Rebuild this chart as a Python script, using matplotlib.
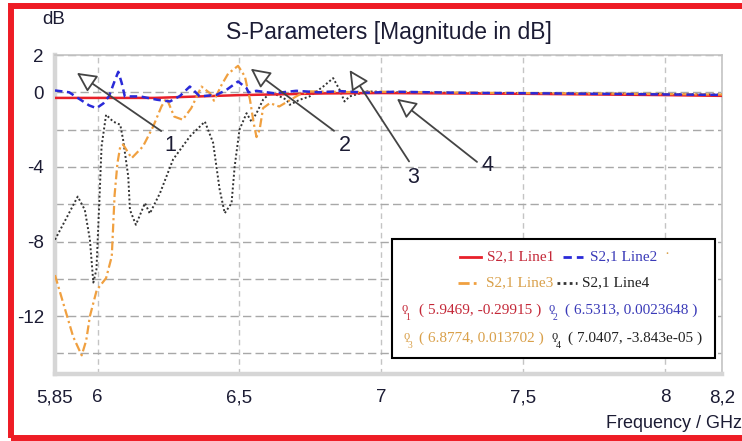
import matplotlib
matplotlib.use("Agg")
import matplotlib.pyplot as plt
import matplotlib.transforms as mtransforms
from matplotlib.patches import Rectangle
from matplotlib.lines import Line2D

plt.rcParams['axes.unicode_minus'] = False

# ---- data ----
line1_x = [5.85, 6.2, 6.5, 6.8, 7.0, 7.5, 8.0, 8.2]
line1_y = [-0.30, -0.30, -0.15, -0.06, -0.04, -0.08, -0.15, -0.19]

line2_x = [5.85, 5.90, 5.94, 5.97, 5.996, 6.02, 6.04, 6.06, 6.073, 6.085, 6.096,
           6.15, 6.21, 6.255, 6.29, 6.325, 6.36, 6.42, 6.454, 6.495, 6.525, 6.5313,
           6.56, 6.62, 6.70, 6.78, 6.86, 6.95, 7.05, 7.3, 7.6, 7.9, 8.2]
line2_y = [0.10, 0.00, -0.40, -0.70, -0.85, -0.60, -0.22, 0.60, 1.10, 0.50, -0.22,
           -0.22, -0.40, -0.49, -0.20, 0.31, -0.22, -0.13, 0.13, 0.58, 0.22, 0.00,
           0.08, -0.05, 0.08, 0.00, 0.06, -0.02, 0.03, -0.03, -0.06, -0.10, -0.14]

line3_x = [5.85, 5.879, 5.914, 5.944, 5.96, 5.973, 5.997, 6.03, 6.05, 6.06, 6.07,
           6.08, 6.09, 6.12, 6.16, 6.196, 6.225, 6.243, 6.27, 6.30, 6.33, 6.366,
           6.396, 6.41, 6.437, 6.46, 6.495, 6.519, 6.537, 6.55, 6.56, 6.571, 6.583,
           6.607, 6.64, 6.68, 6.71, 6.75, 6.8774, 7.0, 7.3, 7.6, 7.9, 8.2]
line3_y = [-9.8, -11.3, -13.1, -14.1, -13.3, -12.0, -10.6, -9.96, -8.8, -5.5, -3.8,
           -2.9, -2.8, -3.53, -2.9, -1.83, -0.76, -0.31, -1.3, -1.47, -0.85, 0.31,
           -0.05, -0.45, 0.40, 1.0, 1.42, 0.85, -0.4, -1.65, -2.4, -2.0, -0.85,
           -0.58, -0.76, -0.4, -0.13, 0.05, 0.014, 0.03, -0.02, -0.05, -0.08, -0.12]

line4_x = [5.85, 5.89, 5.93, 5.955, 5.973, 5.985, 5.996, 6.008, 6.014, 6.03, 6.055,
           6.08, 6.09, 6.108, 6.114, 6.135, 6.167, 6.184, 6.22, 6.266, 6.325, 6.378,
           6.407, 6.43, 6.448, 6.472, 6.483, 6.50, 6.525, 6.542, 6.56, 6.583, 6.607,
           6.63, 6.666, 6.677, 6.712, 6.747, 6.795, 6.83, 6.853, 6.87, 6.888, 6.95,
           7.0407, 7.3, 7.6, 7.9, 8.2]
line4_y = [-7.9, -6.75, -5.59, -6.3, -7.9, -10.2, -9.5, -5.2, -2.9, -1.2, -1.57,
           -1.74, -2.55, -4.5, -6.3, -7.1, -5.94, -6.5, -5.4, -3.6, -2.37, -1.57,
           -2.7, -5.2, -6.48, -5.94, -3.98, -2.0, -1.12, -1.57, -1.12, -0.4, -0.05,
           -0.13, -0.4, -0.67, -0.4, -0.22, 0.31, 0.76, 0.13, -0.49, -0.22, 0.05,
           0.0, -0.03, -0.05, -0.08, -0.12]

marker_x = [5.9469, 6.5313, 6.8774, 7.0407]
marker_y = [-0.29915, 0.0023648, 0.013702, -3.843e-05]
marker_lbl = ['1', '2', '3', '4']

xticks = [5.85, 6, 6.5, 7, 7.5, 8, 8.2]
xtick_labels = ['5,85', '6', '6,5', '7', '7,5', '8', '8,2']
yticks = [2, 0, -4, -8, -12]
ygrid_minor = [-2, -6, -10, -14]

series_names = ['S2,1 Line1', 'S2,1 Line2', 'S2,1 Line3', 'S2,1 Line4']
line_cols = ['#e8202a', '#2a2ad8', '#f0a040', '#333333']
text_cols = ['#c42838', '#3a3ab8', '#d9a04a', '#222222']

# ---- figure ----
W, H = 742, 441
fig = plt.figure(figsize=(W / 100, H / 100), dpi=100)
fig.patch.set_facecolor('white')

def fx(px):
    return px / W

def fy(py):
    return 1 - py / H

sans = ['Liberation Sans Narrow', 'Liberation Sans', 'DejaVu Sans']
serif = ['Liberation Serif', 'DejaVu Serif']
dark = '#1c1c34'

ax = fig.add_axes([fx(55), fy(374), fx(722) - fx(55), fy(55) - fy(374)])

ax.plot(line4_x, line4_y, color=line_cols[3], lw=1.4, ls=(0, (1, 1.2)), zorder=3)
ax.plot(line1_x, line1_y, color=line_cols[0], lw=1.8, ls='-', zorder=4)
ax.plot(line3_x, line3_y, color=line_cols[2], lw=1.6, ls=(0, (4, 1.5, 1, 1.5)), zorder=5)
ax.plot(line2_x, line2_y, color=line_cols[1], lw=1.8, ls=(0, (3, 1.8)), zorder=6)

ax.set_xlim(5.85, 8.2)
ax.set_ylim(-15.1, 2.0)
ax.set_xticks(xticks)
ax.set_xticklabels(xtick_labels)
ax.set_yticks(yticks)
ax.set_yticks(ygrid_minor, minor=True)
ax.tick_params(which='both', length=0)
ax.tick_params(axis='x', pad=11)
ax.tick_params(axis='y', pad=8)
for lab in ax.get_xticklabels() + ax.get_yticklabels():
    lab.set_family(sans)
    lab.set_fontsize(13.5)
    lab.set_color(dark)
ax.grid(True, which='both', axis='y', color='#a8a8a8', lw=1.0, ls=(0, (6, 3)))
ax.grid(True, which='major', axis='x', color='#c4c4c4', lw=1.0, ls=(0, (4, 3)))
ax.set_axisbelow(True)
for side in ['left', 'bottom']:
    ax.spines[side].set_color('#d6d6d6')
    ax.spines[side].set_linewidth(3.2)
for side in ['top', 'right']:
    ax.spines[side].set_color('#c4c4c4')
    ax.spines[side].set_linewidth(1.2)

# marker annotations (arrow tips offset from marker points, in pixels)
tip_off = [(-5.6, 25), (2.4, 23.5), (3, 22), (4, -6.5)]
lbl_off = [(93, -73), (94, -77), (64, -107), (91, -67)]
rel = [(0.3, 1.0), (0.1, 1.0), (0.4, 1.0), (0.0, 0.5)]
for i in range(4):
    tr = mtransforms.offset_copy(ax.transData, fig=fig, x=tip_off[i][0],
                                 y=tip_off[i][1], units='dots')
    ax.annotate(marker_lbl[i], xy=(marker_x[i], marker_y[i]), xycoords=tr,
                xytext=lbl_off[i], textcoords='offset pixels',
                ha='center', va='center', fontsize=15.5, family=sans, color=dark,
                arrowprops=dict(arrowstyle='-|>,head_length=0.7,head_width=0.35',
                                mutation_scale=17, fc='white', ec='#444444',
                                lw=1.3, shrinkA=2, shrinkB=0, relpos=rel[i]),
                zorder=8, annotation_clip=False)

# texts
fig.text(fx(389), fy(33), 'S-Parameters [Magnitude in dB]', ha='center',
         va='center', fontsize=16.5, family=sans, color=dark)
fig.text(fx(54), fy(20), 'dB', ha='center', va='center', fontsize=13.5,
         family=sans, color=dark)
fig.text(fx(742), fy(423), 'Frequency / GHz', ha='right', va='center',
         fontsize=13, family=sans, color=dark)

# legend box
fig.add_artist(Rectangle((fx(392), fy(358)), fx(715) - fx(392), fy(239) - fy(358),
                         transform=fig.transFigure, fc='white', ec='black',
                         lw=1.5, zorder=10))
styles = ['-', (0, (3, 1.8)), (0, (4, 1.5, 1, 1.5)), (0, (1, 1.2))]
samples = [(460, 481, 257, 487), (563, 583, 257, 590),
           (458, 477, 283, 486), (557, 577, 283, 582)]
for i, (x0, x1, yy, xt) in enumerate(samples):
    fig.add_artist(Line2D([fx(x0), fx(x1)], [fy(yy), fy(yy)], transform=fig.transFigure,
                          color=line_cols[i], lw=2, ls=styles[i], zorder=11))
    fig.text(fx(xt), fy(yy), series_names[i], ha='left', va='center', fontsize=11,
             family=serif, color=text_cols[i], zorder=11)
fig.text(fx(664), fy(255), '·', ha='left', va='center', fontsize=11,
         family=serif, color=text_cols[2], zorder=11)

mk_pos = [(405, 419, 310), (552, 565, 310), (407, 419, 338), (555, 568, 338)]
for i, (gx, tx, yy) in enumerate(mk_pos):
    fig.text(fx(gx), fy(yy - 2), 'ϙ', ha='center', va='center', fontsize=9,
             family=serif, color=text_cols[i], zorder=11)
    fig.text(fx(gx + 3), fy(yy + 7), marker_lbl[i], ha='center', va='center',
             fontsize=7, family=serif, color=text_cols[i], zorder=11)
    txt = '( %s, %s )' % ('%.5g' % marker_x[i], '%.5g' % marker_y[i])
    fig.text(fx(tx), fy(yy), txt, ha='left', va='center', fontsize=11,
             family=serif, color=text_cols[i], zorder=11)

# red outer frame
fig.add_artist(Rectangle((fx(11), fy(438)), fx(760) - fx(11), fy(6) - fy(438),
                         transform=fig.transFigure, fill=False, ec='#ee1c25',
                         lw=4.3, zorder=12))

fig.savefig('out.png', dpi=100)
